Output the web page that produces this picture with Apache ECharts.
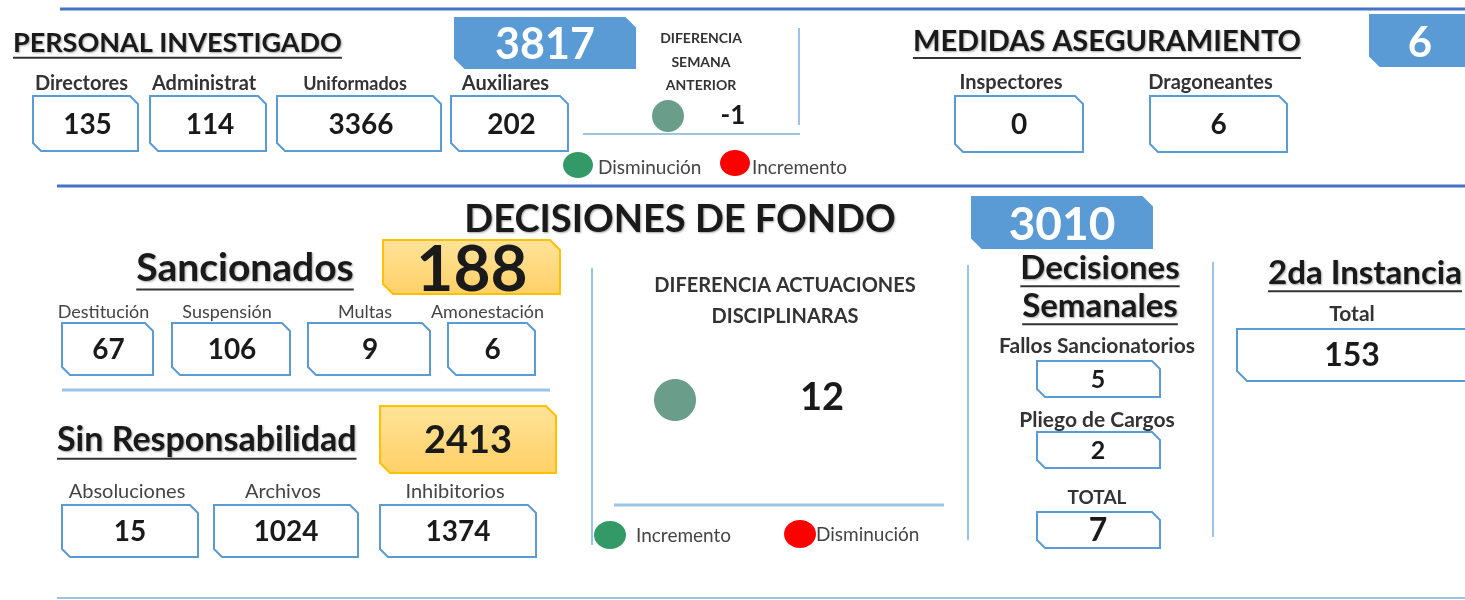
<!DOCTYPE html>
<html>
<head>
<meta charset="utf-8">
<script src="https://cdn.jsdelivr.net/npm/echarts@6/dist/echarts.min.js"></script>
<style>
  html, body { margin: 0; padding: 0; background: #fff; }
  #main { width: 1465px; height: 600px; }
</style>
</head>
<body>
<div id="main"></div>
<script>
// datos del tablero
var personalCats = ['Directores', 'Administrat', 'Uniformados', 'Auxiliares'];
var personalVals = [135, 114, 3366, 202];
var personalTotal = 3817;
var diffSemana = -1;
var medidasCats = ['Inspectores', 'Dragoneantes'];
var medidasVals = [0, 6];
var medidasTotal = 6;
var decisionesTotal = 3010;
var sancionadosTotal = 188;
var sancionCats = ['Destitución', 'Suspensión', 'Multas', 'Amonestación'];
var sancionVals = [67, 106, 9, 6];
var sinRespTotal = 2413;
var sinRespCats = ['Absoluciones', 'Archivos', 'Inhibitorios'];
var sinRespVals = [15, 1024, 1374];
var diffActuaciones = 12;
var semanalesCats = ['Fallos Sancionatorios', 'Pliego de Cargos', 'TOTAL'];
var semanalesVals = [5, 2, 7];
var instanciaCats = ['Total'];
var instanciaVals = [153];

var FONT = 'Lato, "Open Sans", sans-serif';
var BLUE = '#5b9bd5';
var DARK_BLUE = '#4472c4';
var LIGHT = '#9dc3e6';

var myChart = echarts.init(document.getElementById('main'));
var els = [];

// medir textos para los subrayados
var mctx = document.createElement('canvas').getContext('2d');
function textW(str, size, weight) {
  mctx.font = (weight || 'bold') + ' ' + size + 'px ' + FONT;
  return mctx.measureText(str).width;
}

// caja con esquinas recortadas (arriba-derecha y abajo-izquierda)
function box(x, y, w, h, fill, stroke, c) {
  c = c || 8;
  els.push({
    type: 'polygon',
    shape: { points: [[x, y], [x + w - c, y], [x + w, y + c], [x + w, y + h], [x + c, y + h], [x, y + h - c]] },
    style: { fill: fill, stroke: stroke, lineWidth: 2 }
  });
}
function txt(x, y, str, size, opt) {
  opt = opt || {};
  els.push({
    type: 'text', x: x, y: y, z: 10,
    style: {
      text: String(str), font: (opt.weight || 'bold') + ' ' + size + 'px ' + FONT,
      fill: opt.color || '#1a1a1a', align: opt.align || 'center', verticalAlign: 'middle',
      textShadowColor: opt.shadow ? 'rgba(0,0,0,0.35)' : 'transparent', textShadowBlur: opt.shadow ? 2 : 0,
      textShadowOffsetX: opt.shadow ? 1 : 0, textShadowOffsetY: opt.shadow ? 1 : 0
    }
  });
}
function heading(x, y, str, size, align) {
  txt(x, y, str, size, { align: align, shadow: true });
  var w = textW(str, size);
  var x0 = align === 'left' ? x : x - w / 2;
  line(x0, y + size * 0.55, x0 + w, y + size * 0.55, '#333', 2);
}
function line(x1, y1, x2, y2, color, width) {
  els.push({ type: 'line', shape: { x1: x1, y1: y1, x2: x2, y2: y2 }, style: { stroke: color, lineWidth: width } });
}
function dot(cx, cy, rx, ry, color) {
  els.push({ type: 'ellipse', shape: { cx: cx, cy: cy, rx: rx, ry: ry }, style: { fill: color } });
}

// lineas de separacion
line(60, 9, 1465, 9, DARK_BLUE, 3);
line(57, 186, 1465, 186, DARK_BLUE, 3);
line(57, 598, 1465, 598, LIGHT, 2);

// PERSONAL INVESTIGADO
heading(13, 43, 'PERSONAL INVESTIGADO', 27, 'left');
box(455, 18, 180, 50, BLUE, BLUE, 10);
txt(545, 45, personalTotal, 43, { color: '#fff' });
var pBoxes = [[33, 105], [150, 116], [277, 164], [451, 117]];
var pLabelSize = [20, 20, 18, 20];
personalCats.forEach(function (c, i) {
  var b = pBoxes[i];
  txt(b[0] + b[1] / 2 - 4, 84, c, pLabelSize[i], { color: '#333' });
  box(b[0], 96, b[1], 55, '#fff', BLUE);
  txt(b[0] + b[1] / 2 + 2, 125, personalVals[i], 28);
});

// diferencia semana anterior
txt(701, 38, 'DIFERENCIA', 14, { color: '#333' });
txt(701, 62, 'SEMANA', 14, { color: '#333' });
txt(701, 85, 'ANTERIOR', 14, { color: '#333' });
dot(668, 116, 16, 16, '#6a9e8a');
txt(733, 116, diffSemana, 26);
line(799, 28, 799, 125, LIGHT, 2);
line(583, 134, 800, 134, LIGHT, 2);
dot(578, 165, 15, 13, '#339966');
txt(598, 168, 'Disminución', 19, { align: 'left', weight: 'normal', color: '#444' });
dot(735, 163, 15, 13, '#ff0000');
txt(752, 168, 'Incremento', 19, { align: 'left', weight: 'normal', color: '#444' });

// MEDIDAS ASEGURAMIENTO
heading(913, 42, 'MEDIDAS ASEGURAMIENTO', 29, 'left');
box(1370, 15, 110, 51, BLUE, BLUE, 10);
txt(1420, 43, medidasTotal, 42, { color: '#fff' });
var mBoxes = [[955, 128], [1150, 137]];
medidasCats.forEach(function (c, i) {
  var b = mBoxes[i];
  txt(b[0] + b[1] / 2 - 8, 83, c, 20, { color: '#333' });
  box(b[0], 96, b[1], 56, '#fff', BLUE);
  txt(b[0] + b[1] / 2, 125, medidasVals[i], 28);
});

// DECISIONES DE FONDO
txt(680, 220, 'DECISIONES DE FONDO', 38, { shadow: true });
box(972, 197, 180, 51, BLUE, BLUE, 10);
txt(1062, 225, decisionesTotal, 46, { color: '#fff' });

var yellow = new echarts.graphic.LinearGradient(0, 0, 0, 1, [
  { offset: 0, color: '#ffe39a' }, { offset: 1, color: '#ffd066' }
]);

// Sancionados
heading(245, 268, 'Sancionados', 39, 'center');
box(383, 240, 177, 54, yellow, '#ffc000', 10);
txt(472, 270, sancionadosTotal, 64);
var sBoxes = [[62, 91], [172, 118], [308, 122], [448, 87]];
sancionCats.forEach(function (c, i) {
  var b = sBoxes[i];
  txt(b[0] + b[1] / 2 - 4, 312, c, 18, { weight: 'normal', color: '#444' });
  box(b[0], 323, b[1], 52, '#fff', BLUE);
  txt(b[0] + b[1] / 2 + 1, 350, sancionVals[i], 28);
});
line(62, 390, 550, 390, LIGHT, 3);

// Sin Responsabilidad
heading(57, 440, 'Sin Responsabilidad', 34, 'left');
box(380, 406, 176, 67, yellow, '#ffc000', 10);
txt(468, 441, sinRespTotal, 38);
var rBoxes = [[62, 136], [214, 144], [380, 156]];
sinRespCats.forEach(function (c, i) {
  var b = rBoxes[i];
  txt(b[0] + b[1] / 2 - 3, 492, c, 20, { weight: 'normal', color: '#444' });
  box(b[0], 505, b[1], 52, '#fff', BLUE);
  txt(b[0] + b[1] / 2, 532, sinRespVals[i], 28);
});

// diferencia actuaciones
line(592, 268, 592, 545, LIGHT, 2);
line(968, 265, 968, 540, LIGHT, 2);
txt(785, 286, 'DIFERENCIA ACTUACIONES', 20, { color: '#333' });
txt(785, 317, 'DISCIPLINARAS', 20, { color: '#333' });
dot(675, 400, 21, 21, '#6a9e8a');
txt(822, 398, diffActuaciones, 38);
line(614, 505, 944, 505, LIGHT, 3);
dot(610, 535, 16, 14, '#339966');
txt(636, 536, 'Incremento', 19, { align: 'left', weight: 'normal', color: '#444' });
dot(800, 534, 16, 14, '#ff0000');
txt(816, 535, 'Disminución', 19, { align: 'left', weight: 'normal', color: '#444' });

// Decisiones semanales
heading(1100, 268, 'Decisiones', 33, 'center');
heading(1100, 306, 'Semanales', 33, 'center');
var wLabelY = [346, 420, 498];
var wBoxY = [361, 432, 512];
var wLabelSize = [21, 21, 19];
semanalesCats.forEach(function (c, i) {
  txt(1097, wLabelY[i], c, wLabelSize[i], { color: '#333' });
  box(1037, wBoxY[i], 123, 36, '#fff', BLUE);
  txt(1098, wBoxY[i] + 19, semanalesVals[i], i === 2 ? 32 : 25);
});
line(1213, 262, 1213, 537, LIGHT, 2);

// 2da instancia
heading(1365, 273, '2da Instancia', 33, 'center');
instanciaCats.forEach(function (c, i) {
  txt(1352, 314, c, 21, { color: '#333' });
  box(1237, 329, 240, 52, '#fff', BLUE, 10);
  txt(1352, 356, instanciaVals[i], 32);
});

var option = {
  animation: false,
  graphic: { elements: els }
};
myChart.setOption(option);
</script>
</body>
</html>
